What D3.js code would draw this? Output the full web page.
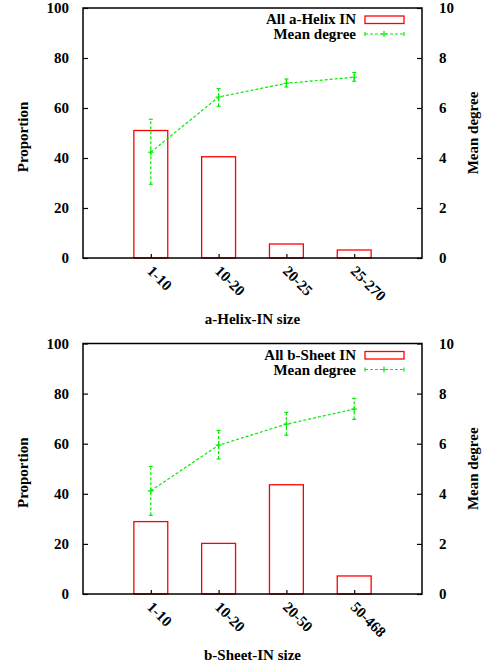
<!DOCTYPE html>
<html>
<head>
<meta charset="utf-8">
<script src="https://cdn.jsdelivr.net/npm/d3@7"></script>
<style>
  body { margin: 0; background: #fff; }
  text { font-family: "Liberation Serif", "Times New Roman", serif; font-weight: bold; font-size: 15px; fill: #000; }
</style>
</head>
<body>
<div id="chart"></div>
<script>
// a-Helix panel data
var helixCats = ["1-10", "10-20", "20-25", "25-270"];
var helixProp = [51, 40.5, 5.6, 3.2];
var helixDeg = [4.23, 6.44, 6.99, 7.23];
var helixDegLo = [2.95, 6.07, 6.84, 7.07];
var helixDegHi = [5.55, 6.78, 7.16, 7.42];

// b-Sheet panel data
var sheetCats = ["1-10", "10-20", "20-50", "50-468"];
var sheetProp = [28.9, 20.2, 43.6, 7.2];
var sheetDeg = [4.12, 5.94, 6.78, 7.38];
var sheetDegLo = [3.14, 5.39, 6.34, 6.97];
var sheetDegHi = [5.09, 6.53, 7.25, 7.81];

var propTicks = [0, 20, 40, 60, 80, 100];
var degTicks = [0, 2, 4, 6, 8, 10];

var svgWidth = 487;
var svgHeight = 666;

var svg = d3.select("#chart")
  .append("svg")
  .attr("width", svgWidth)
  .attr("height", svgHeight);

var red = "#ff0000";
var green = "#00ee00";

function drawPanel(top, bottom, cats, prop, deg, lo, hi, barLabel, xLabel) {
  var left = 83, right = 422;
  var g = svg.append("g");

  var x = d3.scaleLinear().domain([0, cats.length + 1]).range([left, right]);
  var yL = d3.scaleLinear().domain([0, 100]).range([bottom, top]);
  var yR = d3.scaleLinear().domain([0, 10]).range([bottom, top]);
  var barW = x(0.5) - x(0);

  // bars
  g.selectAll("rect.bar").data(prop).enter()
    .append("rect")
    .attr("class", "bar")
    .attr("x", (d, i) => x(i + 1) - barW / 2)
    .attr("y", d => yL(d))
    .attr("width", barW)
    .attr("height", d => yL(0) - yL(d))
    .attr("fill", "none")
    .attr("stroke", red)
    .attr("stroke-width", 1.3);

  // mean degree line
  var line = d3.line()
    .x((d, i) => x(i + 1))
    .y(d => yR(d));
  g.append("path")
    .datum(deg)
    .attr("d", line)
    .attr("fill", "none")
    .attr("stroke", green)
    .attr("stroke-width", 1.2)
    .attr("stroke-dasharray", "3,2");

  // error bars
  deg.forEach(function(d, i) {
    var cx = x(i + 1);
    g.append("line")
      .attr("x1", cx).attr("x2", cx)
      .attr("y1", yR(lo[i])).attr("y2", yR(hi[i]))
      .attr("stroke", green).attr("stroke-width", 1.2)
      .attr("stroke-dasharray", "3,2");
    [lo[i], hi[i]].forEach(function(v) {
      g.append("line")
        .attr("x1", cx - 2).attr("x2", cx + 2)
        .attr("y1", yR(v)).attr("y2", yR(v))
        .attr("stroke", green).attr("stroke-width", 1.2);
    });
    g.append("path")
      .attr("d", `M${cx - 3},${yR(d)}H${cx + 3}M${cx},${yR(d) - 3}V${yR(d) + 3}`)
      .attr("stroke", green).attr("stroke-width", 1.2);
  });

  // axes
  var leftAxis = d3.axisLeft(yL).tickValues(propTicks).tickSize(-5).tickPadding(14);
  var rightAxis = d3.axisRight(yR).tickValues(degTicks).tickSize(-5).tickPadding(17);
  var bottomAxis = d3.axisBottom(x).tickValues(d3.range(1, cats.length + 1))
    .tickSize(-4).tickFormat((d, i) => cats[i]);

  var la = g.append("g").attr("transform", `translate(${left},0)`).call(leftAxis);
  var ra = g.append("g").attr("transform", `translate(${right},0)`).call(rightAxis);
  var ba = g.append("g").attr("transform", `translate(0,${bottom})`).call(bottomAxis);

  [la, ra, ba].forEach(function(a) {
    a.select(".domain").remove();
    a.selectAll("line").attr("stroke", "#000").attr("stroke-width", 1.2);
    a.selectAll("text").attr("font-size", null).attr("font-family", null);
  });
  ba.selectAll("text")
    .attr("text-anchor", "start")
    .attr("dy", null)
    .attr("y", 0)
    .attr("transform", "translate(-5,14) rotate(45)");

  // frame
  g.append("rect")
    .attr("x", left).attr("y", top)
    .attr("width", right - left).attr("height", bottom - top)
    .attr("fill", "none").attr("stroke", "#000").attr("stroke-width", 1.5);

  // axis titles
  g.append("text")
    .attr("transform", `translate(28,${(top + bottom) / 2 + 4}) rotate(-90)`)
    .attr("text-anchor", "middle")
    .text("Proportion");
  g.append("text")
    .attr("transform", `translate(478,${(top + bottom) / 2}) rotate(-90)`)
    .attr("text-anchor", "middle")
    .text("Mean degree");
  g.append("text")
    .attr("x", (left + right) / 2)
    .attr("y", bottom + 66)
    .attr("text-anchor", "middle")
    .text(xLabel);

  // legend
  var ly = top + 8;
  g.append("text").attr("x", 356).attr("y", ly + 8).attr("text-anchor", "end").text(barLabel);
  g.append("rect").attr("x", 365).attr("y", ly).attr("width", 39).attr("height", 7.5)
    .attr("fill", "none").attr("stroke", red).attr("stroke-width", 1.3);
  g.append("text").attr("x", 356).attr("y", ly + 23).attr("text-anchor", "end").text("Mean degree");
  var lm = ly + 18;
  g.append("line").attr("x1", 365).attr("x2", 404).attr("y1", lm).attr("y2", lm)
    .attr("stroke", green).attr("stroke-width", 1.2).attr("stroke-dasharray", "3,2");
  g.append("path")
    .attr("d", `M365,${lm - 2}V${lm + 2}M404,${lm - 2}V${lm + 2}M381,${lm}H387M384,${lm - 3}V${lm + 3}`)
    .attr("stroke", green).attr("stroke-width", 1.2);
}

drawPanel(8, 258, helixCats, helixProp, helixDeg, helixDegLo, helixDegHi, "All a-Helix IN", "a-Helix-IN size");
drawPanel(343.5, 594, sheetCats, sheetProp, sheetDeg, sheetDegLo, sheetDegHi, "All b-Sheet IN", "b-Sheet-IN size");
</script>
</body>
</html>
